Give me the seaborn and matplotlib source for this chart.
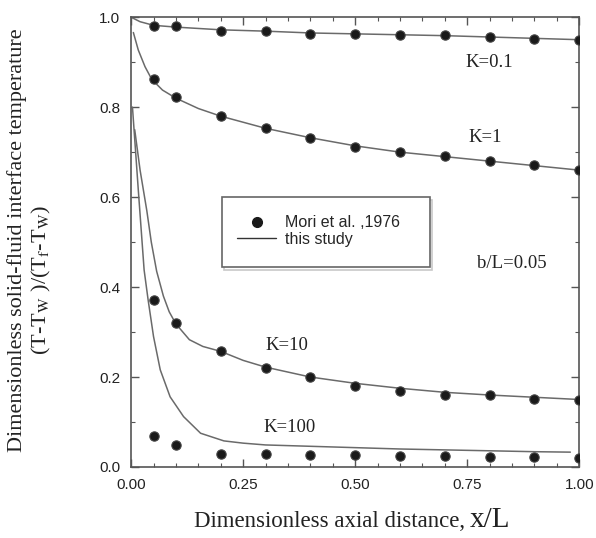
import pandas as pd
import seaborn as sns
import matplotlib.pyplot as plt
from matplotlib.patches import Rectangle
from matplotlib.ticker import MultipleLocator, FormatStrFormatter

# measured points (Mori et al., 1976)
x_pts = [0.05, 0.1, 0.2, 0.3, 0.4, 0.5, 0.6, 0.7, 0.8, 0.9, 1.0]
pts_k01 = [0.98, 0.98, 0.97, 0.97, 0.962, 0.962, 0.96, 0.96, 0.955, 0.952, 0.95]
pts_k1 = [0.862, 0.822, 0.78, 0.753, 0.731, 0.711, 0.70, 0.691, 0.68, 0.671, 0.66]
pts_k10 = [0.371, 0.32, 0.258, 0.22, 0.2, 0.18, 0.169, 0.16, 0.16, 0.151, 0.149]
pts_k100 = [0.069, 0.049, 0.029, 0.029, 0.027, 0.027, 0.024, 0.024, 0.022, 0.022, 0.02]

# curves (this study)
x_k01 = [0.0, 0.02, 0.05, 0.1, 0.2, 0.3, 0.4, 0.5, 0.6, 0.7, 0.8, 0.9, 1.0]
y_k01 = [1.0, 0.99, 0.982, 0.978, 0.972, 0.969, 0.965, 0.963, 0.961, 0.959, 0.956, 0.953, 0.950]
x_k1 = [0.005, 0.016, 0.031, 0.046, 0.07, 0.1, 0.15, 0.2, 0.3, 0.4, 0.5, 0.6, 0.7, 0.8, 0.9, 1.0]
y_k1 = [0.966, 0.927, 0.89, 0.862, 0.838, 0.82, 0.797, 0.78, 0.753, 0.732, 0.714, 0.700, 0.690, 0.680, 0.670, 0.660]
x_k10 = [0.008, 0.02, 0.035, 0.045, 0.057, 0.072, 0.085, 0.1, 0.13, 0.16, 0.2, 0.25, 0.3,
         0.4, 0.5, 0.6, 0.7, 0.8, 0.9, 1.0]
y_k10 = [0.75, 0.66, 0.57, 0.5, 0.435, 0.38, 0.345, 0.318, 0.283, 0.268, 0.257, 0.237, 0.222,
         0.2, 0.186, 0.175, 0.166, 0.16, 0.155, 0.15]
x_k100 = [0.003, 0.016, 0.029, 0.038, 0.05, 0.065, 0.087, 0.117, 0.155, 0.207, 0.25, 0.3,
          0.4, 0.5, 0.6, 0.7, 0.8, 0.9, 0.98]
y_k100 = [0.80, 0.616, 0.438, 0.371, 0.29, 0.216, 0.156, 0.112, 0.075, 0.058, 0.053, 0.049,
          0.046, 0.043, 0.040, 0.038, 0.036, 0.034, 0.033]

curves = pd.concat([
    pd.DataFrame({"x": x_k01, "y": y_k01, "K": "0.1"}),
    pd.DataFrame({"x": x_k1, "y": y_k1, "K": "1"}),
    pd.DataFrame({"x": x_k10, "y": y_k10, "K": "10"}),
    pd.DataFrame({"x": x_k100, "y": y_k100, "K": "100"}),
])
points = pd.DataFrame({
    "x": x_pts * 4,
    "y": pts_k01 + pts_k1 + pts_k10 + pts_k100,
})

sns.set_style("ticks")
plt.rcParams["font.family"] = ["Liberation Sans", "DejaVu Sans"]
plt.rcParams["mathtext.fontset"] = "stix"

fig = plt.figure(figsize=(5.96, 5.38), dpi=100)
ax = fig.add_axes([0.22, 0.132, 0.752, 0.836])

line_col = "#6a6a6a"
sns.lineplot(data=curves, x="x", y="y", units="K", estimator=None, color=line_col,
             linewidth=1.1, sort=False, ax=ax, legend=False)
sns.scatterplot(data=points, x="x", y="y", color="#1a1a1a", s=45, edgecolor="#444444",
                linewidth=0.8, ax=ax, legend=False, zorder=3)

ax.set_xlim(0, 1.0)
ax.set_ylim(0, 1.0)
ax.xaxis.set_major_locator(MultipleLocator(0.25))
ax.xaxis.set_minor_locator(MultipleLocator(0.05))
ax.yaxis.set_major_locator(MultipleLocator(0.2))
ax.yaxis.set_minor_locator(MultipleLocator(0.1))
ax.xaxis.set_major_formatter(FormatStrFormatter("%.2f"))
ax.yaxis.set_major_formatter(FormatStrFormatter("%.1f"))
ax.tick_params(which="both", direction="in", top=True, right=True, color="#555555")
ax.tick_params(which="major", length=6, width=1, labelsize=11, pad=8, labelcolor="#222222")
ax.tick_params(which="minor", length=3, width=0.8)
for sp in ax.spines.values():
    sp.set_color("#555555")
    sp.set_linewidth(1.2)
ax.set_xlabel("")
ax.set_ylabel("")

serif = ["Liberation Serif", "DejaVu Serif"]
ann = dict(family=serif, fontsize=13.5, color="#222222", ha="center", va="center")
ax.text(0.80, 0.90, "K=0.1", **ann)
ax.text(0.79, 0.733, "K=1", **ann)
ax.text(0.849, 0.453, "b/L=0.05", **ann)
ax.text(0.347, 0.27, "K=10", **ann)
ax.text(0.354, 0.087, "K=100", **ann)

# legend box with a light shadow
ax.add_patch(Rectangle((0.207, 0.438), 0.464, 0.156, transform=ax.transAxes,
                       facecolor="none", edgecolor="#c8c8c8", linewidth=1.2, zorder=4))
ax.add_patch(Rectangle((0.203, 0.444), 0.464, 0.156, transform=ax.transAxes,
                       facecolor="white", edgecolor="#666666", linewidth=1.2, zorder=4))
h_pt = plt.Line2D([], [], marker="o", linestyle="none", color="#1a1a1a", markersize=7)
h_ln = plt.Line2D([], [], color="#333333", linewidth=1)
leg = ax.legend([h_pt, h_ln], ["Mori et al. ,1976", "this study"], loc="upper left",
                bbox_to_anchor=(0.237, 0.56), fontsize=11.5, frameon=False, borderpad=0,
                borderaxespad=0, handlelength=2.4, handletextpad=0.6, labelspacing=0.1)
leg.set_zorder(5)

# axis titles
fig.text(0.029, 0.554, "Dimensionless solid-fluid interface temperature", family=serif,
         fontsize=16, rotation=90, ha="center", va="center", color="#222222")
fig.text(0.069, 0.48, r"(T-T$_\mathrm{W}$ )/(T$_\mathrm{f}$-T$_\mathrm{W}$)", family=serif,
         fontsize=16, rotation=90, ha="center", va="center", color="#222222")
fig.text(465 / 596, 1 - 527 / 538, "Dimensionless axial distance,", family=serif,
         fontsize=16.5, ha="right", va="baseline", color="#222222")
fig.text(470 / 596, 1 - 527 / 538, "x/L", family=serif, fontsize=21, ha="left",
         va="baseline", color="#222222")

fig.savefig("out.png", dpi=100)
